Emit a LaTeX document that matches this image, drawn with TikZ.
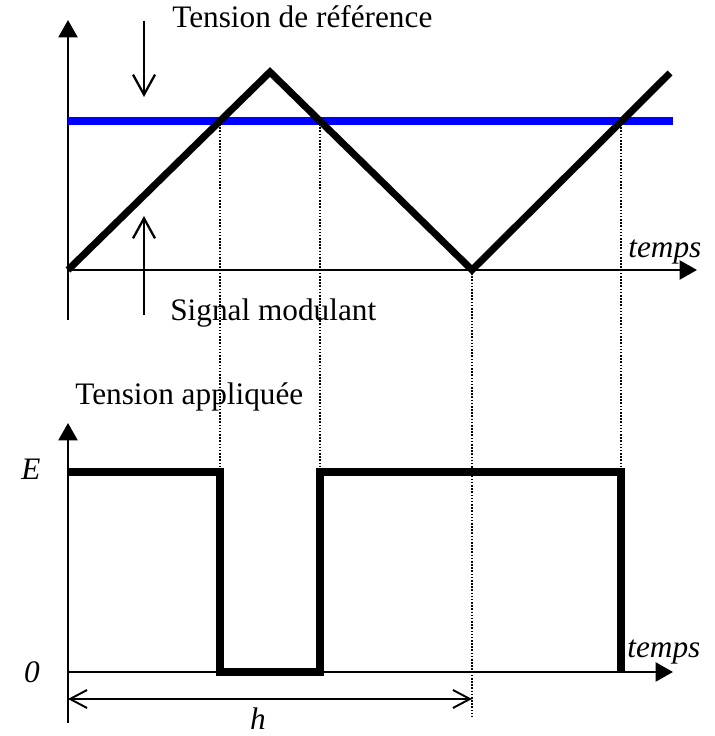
\documentclass[tikz,border=0pt]{standalone}
\usepackage{fontspec}
\setmainfont{Liberation Serif}
\usetikzlibrary{arrows.meta}

\begin{document}
\begin{tikzpicture}[x=0.02cm,y=0.02cm,
    axis/.style={line width=1.6pt, -{Triangle[length=0.35cm,width=0.38cm]}},
    wave/.style={line width=4pt},
    guide/.style={line width=1pt, dash pattern=on 0.9pt off 0.9pt},
    pointer/.style={line width=1.3pt, -{Straight Barb[length=0.4cm,width=0.44cm]}},
    lbl/.style={font=\fontsize{17.8}{20}\selectfont, inner sep=0pt}]
    \useasboundingbox (0,0) rectangle (715,736);

    % upper plot: carrier and reference
    \coordinate (o1) at (68,466);
    \coordinate (top1) at (68,716);
    \coordinate (low1) at (68,416);
    \coordinate (end1) at (697,466);
    \coordinate (c1) at (220,615);
    \coordinate (c2) at (320,615);
    \coordinate (c3) at (621,615);
    \coordinate (v1) at (472,466);

    % lower plot: applied voltage
    \coordinate (o2) at (68,64);
    \coordinate (top2) at (68,313);
    \coordinate (low2) at (68,13);
    \coordinate (end2) at (673,64);
    \coordinate (hl) at (68,37);
    \coordinate (hr) at (472,37);

    \draw[guide] (c1) -- (220,264);
    \draw[guide] (c2) -- (320,264);
    \draw[guide] (c3) -- (621,264);
    \draw[guide] (v1) -- (472,18);

    \draw[axis] (low1) -- (top1);
    \draw[axis] (o1) -- (end1);
    \draw[wave, blue] (68,615) -- (673,615);
    \draw[wave] (o1) -- (270,664) -- (v1) -- (670,663);

    \node[lbl, anchor=base west] (reftxt) at (172,708) {Tension de référence};
    \node[lbl, anchor=base west] (sigtxt) at (170,415) {Signal modulant};
    \node[lbl, anchor=base west] (temps1) at (628,478) {\itshape temps};
    \coordinate (pa) at (144,715);
    \coordinate (pb) at (144,421);
    \draw[pointer] (pa) -- (144,639);
    \draw[pointer] (pb) -- (144,520);

    \draw[axis] (low2) -- (top2);
    \draw[axis] (o2) -- (end2);
    \draw[wave] (68,264) -- (220,264) -- (220,64) -- (320,64) -- (320,264)
      -- (621,264) -- (621,64);
    \draw[line width=1.1pt, {Straight Barb[length=0.34cm,width=0.36cm]}-{Straight Barb[length=0.34cm,width=0.36cm]}] (hl) -- (hr);

    \node[lbl, anchor=base west] (apptxt) at (75,331) {Tension appliquée};
    \node[lbl, anchor=base west] (temps2) at (627,78) {\itshape temps};
    \node[lbl, anchor=base west] (elbl) at (21,256) {\itshape E};
    \node[lbl] (zlbl) at (32,64) {\itshape 0};
    \node[lbl, anchor=base] (hlbl) at (258,7) {\itshape h};
  \end{tikzpicture}
\end{document}
